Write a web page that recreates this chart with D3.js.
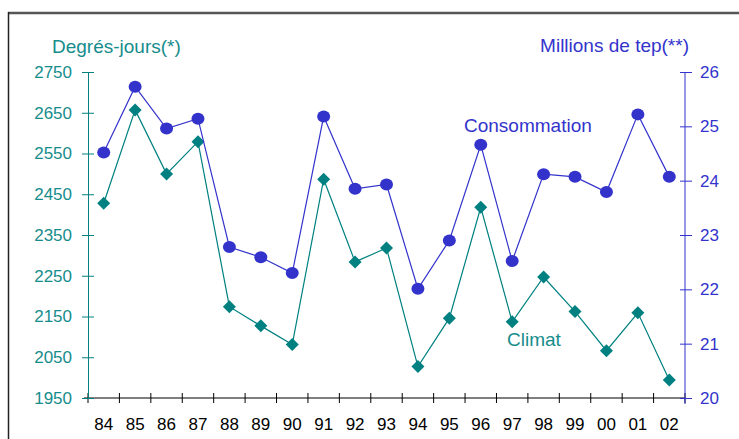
<!DOCTYPE html>
<html>
<head>
<meta charset="utf-8">
<script src="https://cdn.jsdelivr.net/npm/d3@7"></script>
<style>
  body { margin: 0; background: #fff; }
  svg { display: block; font-family: "Liberation Sans", Arial, sans-serif; }
</style>
</head>
<body>
<div id="chart"></div>
<script>
const years = ['84', '85', '86', '87', '88', '89', '90', '91', '92', '93',
  '94', '95', '96', '97', '98', '99', '00', '01', '02'];

// Degrés-jours (left axis)
const climat = [2428, 2657, 2500, 2579, 2174, 2127, 2081, 2487, 2284, 2318,
  2027, 2146, 2418, 2137, 2247, 2162, 2066, 2159, 1994];

// Millions de tep (right axis)
const consommation = [24.52, 25.73, 24.96, 25.14, 22.78, 22.59, 22.30, 25.18, 23.85, 23.93,
  22.01, 22.90, 24.66, 22.52, 24.12, 24.07, 23.79, 25.22, 24.07];

const leftTicks = [1950, 2050, 2150, 2250, 2350, 2450, 2550, 2650, 2750];
const rightTicks = [20, 21, 22, 23, 24, 25, 26];

const W = 739, H = 439;
const teal = '#008080', tealText = '#168c8c', blue = '#3333cc';

const svg = d3.select('#chart').append('svg').attr('width', W).attr('height', H);

// frame
svg.append('line').attr('x1', 8).attr('x2', W).attr('y1', 13).attr('y2', 13)
  .attr('stroke', '#555').attr('stroke-width', 2.5);
svg.append('line').attr('x1', 8.5).attr('x2', 8.5).attr('y1', 12).attr('y2', H)
  .attr('stroke', '#222').attr('stroke-width', 1.5);

const x = d3.scaleBand().domain(years).range([88, 685]).padding(0);
const yL = d3.scaleLinear().domain([1950, 2750]).range([398, 72]);
const yR = d3.scaleLinear().domain([20, 26]).range([398, 72]);
const cx = d => x(d) + x.bandwidth() / 2;

// X axis: labels centred, ticks at band edges
const gx = svg.append('g').attr('transform', 'translate(0,398)')
  .call(d3.axisBottom(x).tickSize(0).tickPadding(20))
  .call(a => a.select('.domain').attr('stroke', '#000').attr('d', 'M84,0H685'));
gx.selectAll('text').attr('font-size', 17).attr('fill', '#000').attr('font-family', null);
gx.selectAll('.edge').data([...years.map(d => x(d)), x.range()[1]])
  .join('line').attr('class', 'edge')
  .attr('x1', d => d).attr('x2', d => d).attr('y1', -5).attr('y2', 5)
  .attr('stroke', '#000');

// Left axis
const gl = svg.append('g').attr('transform', 'translate(88,0)')
  .call(d3.axisLeft(yL).tickValues(leftTicks).tickFormat(d3.format('d'))
    .tickSize(6).tickSizeOuter(0).tickPadding(10))
  .call(a => a.select('.domain').attr('stroke', teal))
  .call(a => a.selectAll('.tick line').attr('x1', 6).attr('stroke', teal));
gl.selectAll('text').attr('font-size', 17).attr('fill', tealText).attr('font-family', null);

// Right axis
const gr = svg.append('g').attr('transform', 'translate(685,0)')
  .call(d3.axisRight(yR).tickValues(rightTicks).tickFormat(d3.format('d'))
    .tickSize(7).tickSizeOuter(0).tickPadding(8))
  .call(a => a.select('.domain').attr('stroke', blue).attr('d', 'M0,72V404'))
  .call(a => a.selectAll('.tick line').attr('x1', -5).attr('stroke', blue));
gr.selectAll('text').attr('font-size', 17).attr('fill', blue).attr('font-family', null);

// Axis titles
svg.append('text').attr('x', 52).attr('y', 53).attr('font-size', 19)
  .attr('fill', tealText).text('Degrés-jours(*)');
svg.append('text').attr('x', 689).attr('y', 52).attr('font-size', 19)
  .attr('text-anchor', 'end').attr('fill', blue).text('Millions de tep(**)');

// Climat series
svg.append('path').datum(climat)
  .attr('fill', 'none').attr('stroke', teal).attr('stroke-width', 1.2)
  .attr('d', d3.line().x((d, i) => cx(years[i])).y(d => yL(d)));
svg.selectAll('.dia').data(climat).join('path').attr('class', 'dia')
  .attr('transform', (d, i) => `translate(${cx(years[i])},${yL(d)})`)
  .attr('d', 'M0,-6.5L6.5,0L0,6.5L-6.5,0Z')
  .attr('fill', teal);

// Consommation series
svg.append('path').datum(consommation)
  .attr('fill', 'none').attr('stroke', blue).attr('stroke-width', 1.2)
  .attr('d', d3.line().x((d, i) => cx(years[i])).y(d => yR(d)));
svg.selectAll('.dot').data(consommation).join('ellipse').attr('class', 'dot')
  .attr('cx', (d, i) => cx(years[i])).attr('cy', d => yR(d))
  .attr('rx', 6.5).attr('ry', 6)
  .attr('fill', blue);

// Series labels
svg.append('text').attr('x', 464).attr('y', 132).attr('font-size', 19)
  .attr('fill', blue).text('Consommation');
svg.append('text').attr('x', 507).attr('y', 346).attr('font-size', 19)
  .attr('fill', tealText).text('Climat');
</script>
</body>
</html>
